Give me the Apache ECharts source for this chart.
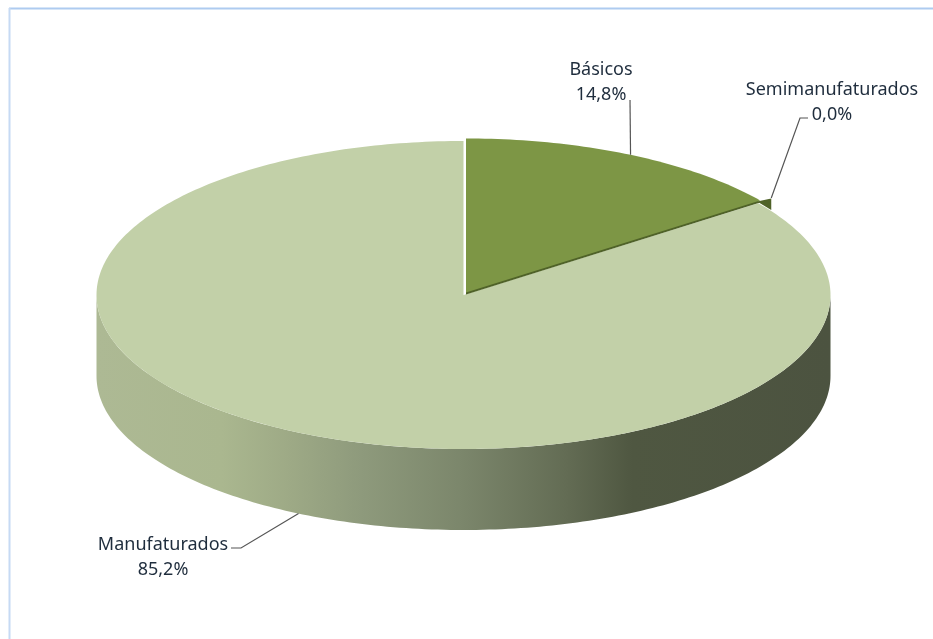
<!DOCTYPE html>
<html>
<head>
<meta charset="utf-8">
<style>html,body{margin:0;padding:0;background:#fff}#c{width:933px;height:639px}</style>
<script src="https://cdn.jsdelivr.net/npm/echarts@6/dist/echarts.min.js"></script>
</head>
<body>
<div id="c"></div>
<script>
var categories = ['Básicos', 'Semimanufaturados', 'Manufaturados'];
var shares = [14.8, 0.04, 85.16];
var shownShares = ['14,8%', '0,0%', '85,2%'];

var sliceColors = ['#7D9645', '#4F6228', '#C2D0A8'];
var CX = 463.5, CY = 295, RX = 367, RY = 154, DEPTH = 81;
var OFFSET = [[2.5, -2.5], [2.5, -2.5], [0, 0]];
var MIN_SPAN = [0, 3, 0];
var LABELS = [
  {x: 601, y: 70, lead: [[630, 100]]},
  {x: 832, y: 90, lead: [[800, 118], [808, 118]]},
  {x: 163, y: 545, lead: [[241, 548], [231, 548]]}
];

var total = shares.reduce(function (a, b) { return a + b; }, 0);
function startAngle(i) {
  var s = 0;
  for (var k = 0; k < i; k++) s += shares[k];
  return s / total * 360;
}
function rim(deg, i, dy) {
  var t = deg * Math.PI / 180;
  return [CX + OFFSET[i][0] + RX * Math.sin(t), CY + OFFSET[i][1] + (dy || 0) - RY * Math.cos(t)];
}
function arc(a, b, i, dy) {
  var pts = [], n = Math.max(2, Math.ceil(Math.abs(b - a)));
  for (var k = 0; k <= n; k++) pts.push(rim(a + (b - a) * k / n, i, dy));
  return pts;
}
var wallFill = new echarts.graphic.LinearGradient(97, 0, 830, 0, [
  {offset: 0, color: '#ADB994'},
  {offset: 0.17, color: '#AAB78F'},
  {offset: 0.26, color: '#9EAA86'},
  {offset: 0.36, color: '#8E9A7C'},
  {offset: 0.50, color: '#7B866B'},
  {offset: 0.64, color: '#636C54'},
  {offset: 0.73, color: '#4F5741'},
  {offset: 1, color: '#4C5340'}
], true);

function renderWall(params, api) {
  var i = params.dataIndex;
  var a = startAngle(i), b = a + api.value(1) / total * 360;
  var children = [];
  var lo = Math.max(a, 90), hi = Math.min(b, 270);
  if (hi > lo) {
    var top = arc(lo, hi, i, 0), bottom = arc(hi, lo, i, DEPTH);
    children.push({type: 'polygon', shape: {points: top.concat(bottom)}, style: {fill: wallFill}});
  }
  return {type: 'group', children: children};
}

function renderTop(params, api) {
  var i = params.dataIndex;
  var a = startAngle(i), b = a + api.value(1) / total * 360;
  var tip = [CX + OFFSET[i][0], CY + OFFSET[i][1]];
  var children = [];
  var raised = i < 2 ? 5 : 0;
  if (MIN_SPAN[i] > 0) {
    var p0 = rim(a, i), p1 = rim(a + MIN_SPAN[i], i);
    children.push({type: 'polygon', z2: raised, shape: {points: [[p0[0] - 3, p0[1] + 1], [p1[0], p0[1] - 2], [p1[0], p1[1] + 3]]}, style: {fill: sliceColors[i]}});
  } else {
    var pts = [tip].concat(arc(a, b, i));
    if (OFFSET[i][0] !== 0) {
      children.push({type: 'polygon', z2: raised, shape: {points: pts.map(function (p) { return [p[0], p[1] + 2]; })}, style: {fill: '#4F6228'}});
    }
    children.push({type: 'polygon', z2: raised + 1, shape: {points: pts}, style: {fill: sliceColors[i]}});
  }
  return {type: 'group', children: children};
}

function renderLabel(params, api) {
  var i = params.dataIndex;
  var a = startAngle(i), b = a + api.value(1) / total * 360;
  var mid = MIN_SPAN[i] > 0 ? a + MIN_SPAN[i] : (a + b) / 2;
  var front = mid > 90 && mid < 270;
  var start = rim(mid, i, front ? DEPTH : 0);
  if (MIN_SPAN[i] > 0) start = [start[0], start[1] - 9];
  var L = LABELS[i];
  return {type: 'group', children: [
    {type: 'polyline', shape: {points: [start].concat(L.lead)}, style: {stroke: '#555', lineWidth: 1.2, fill: null}},
    {type: 'text', style: {x: L.x, y: L.y, text: categories[i], fill: '#1F2D3D', font: '18px "Noto Sans"', textAlign: 'center', textVerticalAlign: 'middle'}},
    {type: 'text', style: {x: L.x, y: L.y + 25, text: shownShares[i], fill: '#1F2D3D', font: '18px "Noto Sans"', textAlign: 'center', textVerticalAlign: 'middle'}}
  ]};
}

var rows = categories.map(function (c, i) { return [i, shares[i]]; });
var chart = echarts.init(document.getElementById('c'), null, {renderer: 'canvas'});
chart.setOption({
  animation: false,
  backgroundColor: '#fff',
  graphic: [
    {type: 'line', shape: {x1: 9, y1: 8.5, x2: 933, y2: 8.5}, style: {stroke: '#AECBF0', lineWidth: 2}},
    {type: 'line', shape: {x1: 9.5, y1: 8, x2: 9.5, y2: 639}, style: {stroke: '#C6DAF4', lineWidth: 2}}
  ],
  series: [
    {type: 'custom', coordinateSystem: 'none', data: rows, renderItem: renderWall, z: 1, silent: true},
    {type: 'custom', coordinateSystem: 'none', data: rows, renderItem: renderTop, z: 2, silent: true},
    {type: 'custom', coordinateSystem: 'none', data: rows, renderItem: renderLabel, z: 3, silent: true}
  ]
});
</script>
</body>
</html>
